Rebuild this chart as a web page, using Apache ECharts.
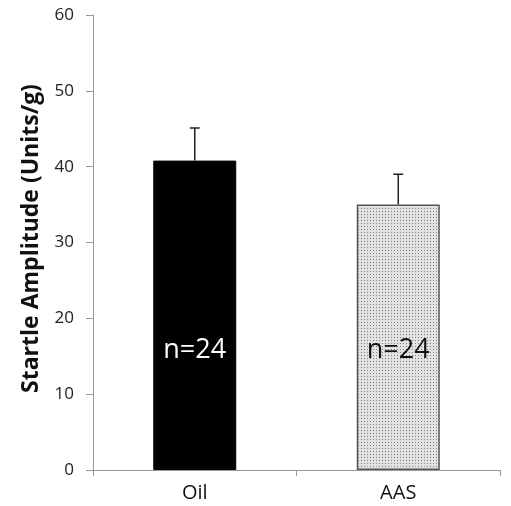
<!DOCTYPE html>
<html>
<head>
<meta charset="utf-8">
<script src="https://cdn.jsdelivr.net/npm/echarts@6/dist/echarts.min.js"></script>
<style>
  html, body { margin: 0; padding: 0; background: #fff; }
  #main { width: 511px; height: 506px; }
</style>
</head>
<body>
<div id="main"></div>
<script>
  var categories = ['Oil', 'AAS'];
  var means = [40.8, 35.0];
  var errors = [4.3, 4.0];
  var nLabels = ['n=24', 'n=24'];

  // dotted fill for the AAS bar
  var tile = document.createElement('canvas');
  tile.width = 3;
  tile.height = 3;
  var ctx = tile.getContext('2d');
  ctx.fillStyle = '#e2e2e2';
  ctx.fillRect(0, 0, 3, 3);
  ctx.fillStyle = '#7e7e7e';
  ctx.fillRect(1, 1, 1, 1);

  var chart = echarts.init(document.getElementById('main'));
  var font = '"Open Sans", "Liberation Sans", sans-serif';

  var option = {
    animation: false,
    grid: { left: 93, right: 11, top: 15, bottom: 36 },
    xAxis: {
      type: 'category',
      data: categories,
      axisLine: { lineStyle: { color: '#999', width: 1 } },
      axisTick: { show: true, length: 6, lineStyle: { color: '#999' } },
      axisLabel: { color: '#111', fontSize: 20, fontFamily: font, margin: 13 }
    },
    yAxis: {
      type: 'value',
      min: 0,
      max: 60,
      interval: 10,
      name: 'Startle Amplitude (Units/g)',
      nameLocation: 'middle',
      nameGap: 50,
      nameTextStyle: { color: '#111', fontSize: 23, fontWeight: 'bold', fontFamily: font, padding: [0, 0, 0, 8] },
      splitLine: { show: false },
      axisLine: { show: true, lineStyle: { color: '#999', width: 1 } },
      axisTick: { show: true, length: 7, lineStyle: { color: '#999' } },
      axisLabel: { color: '#222', fontSize: 17, fontFamily: font, margin: 19 }
    },
    series: [
      {
        type: 'bar',
        barWidth: 83,
        data: means.map(function (v, i) {
          return {
            value: v,
            itemStyle: i === 0
              ? { color: '#000', borderColor: '#000', borderWidth: 1 }
              : { color: { image: tile, repeat: 'repeat' }, borderColor: '#555', borderWidth: 1.5 },
            label: {
              show: true,
              formatter: nLabels[i],
              position: 'insideBottom',
              distance: 106,
              color: i === 0 ? '#fff' : '#111',
              fontSize: 27,
              fontFamily: font
            }
          };
        }),
        z: 2
      },
      {
        type: 'custom',
        z: 3,
        data: means.map(function (v, i) { return [i, v, v + errors[i]]; }),
        renderItem: function (params, api) {
          var base = api.coord([api.value(0), api.value(1)]);
          var top = api.coord([api.value(0), api.value(2)]);
          var half = 5;
          var style = { stroke: '#222', lineWidth: 1.5 };
          return {
            type: 'group',
            children: [
              { type: 'line', shape: { x1: base[0], y1: base[1], x2: top[0], y2: top[1] }, style: style },
              { type: 'line', shape: { x1: top[0] - half, y1: top[1], x2: top[0] + half, y2: top[1] }, style: style }
            ]
          };
        }
      }
    ]
  };

  chart.setOption(option);
</script>
</body>
</html>
